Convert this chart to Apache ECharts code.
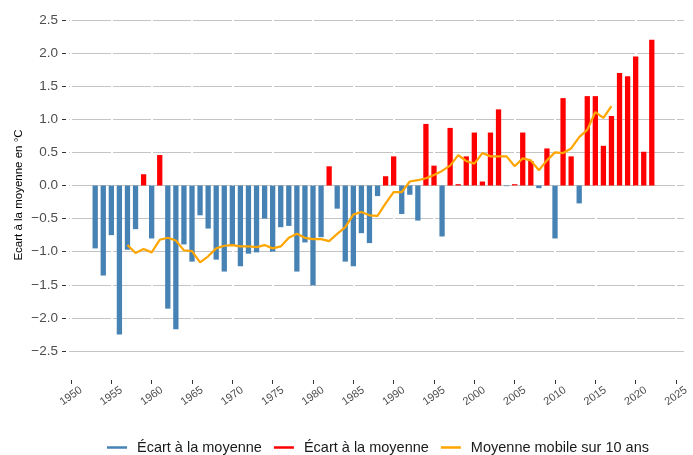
<!DOCTYPE html>
<html>
<head>
<meta charset="utf-8">
<script src="https://cdn.jsdelivr.net/npm/echarts@6/dist/echarts.min.js"></script>
<style>
html,body{margin:0;padding:0;background:#fff;}
#chart{width:693px;height:455px;}
</style>
</head>
<body>
<div id="chart"></div>
<script>
// Years of the annual anomalies
const years = [
  1953,1954,1955,1956,1957,1958,1959,1960,1961,1962,
  1963,1964,1965,1966,1967,1968,1969,1970,1971,1972,
  1973,1974,1975,1976,1977,1978,1979,1980,1981,1982,
  1983,1984,1985,1986,1987,1988,1989,1990,1991,1992,
  1993,1994,1995,1996,1997,1998,1999,2000,2001,2002,
  2003,2004,2005,2006,2007,2008,2009,2010,2011,2012,
  2013,2014,2015,2016,2017,2018,2019,2020,2021,2022
];
// Écart à la moyenne (°C)
const anomalies = [
  -0.95,-1.36,-0.75,-2.25,-0.97,-0.66,0.17,-0.80,0.46,-1.86,
  -2.17,-0.89,-1.15,-0.45,-0.65,-1.12,-1.30,-0.90,-1.22,-1.03,
  -1.01,-0.50,-1.00,-0.63,-0.61,-1.30,-0.86,-1.51,-0.78,0.29,
  -0.35,-1.15,-1.22,-0.72,-0.87,-0.16,0.14,0.44,-0.43,-0.14,
  -0.53,0.93,0.30,-0.77,0.87,0.02,0.44,0.80,0.06,0.80,
  1.15,-0.01,0.02,0.80,0.37,-0.04,0.56,-0.80,1.32,0.44,
  -0.27,1.35,1.35,0.60,1.05,1.70,1.65,1.95,0.51,2.20
];
// Moyenne mobile sur 10 ans
const maYears = [
  1957,1958,1959,1960,1961,1962,1963,1964,1965,1966,
  1967,1968,1969,1970,1971,1972,1973,1974,1975,1976,
  1977,1978,1979,1980,1981,1982,1983,1984,1985,1986,
  1987,1988,1989,1990,1991,1992,1993,1994,1995,1996,
  1997,1998,1999,2000,2001,2002,2003,2004,2005,2006,
  2007,2008,2009,2010,2011,2012,2013,2014,2015,2016,2017
];
const movingAvg = [
  -0.90,-1.02,-0.96,-1.01,-0.82,-0.79,-0.83,-0.98,-0.99,-1.16,
  -1.07,-0.95,-0.91,-0.90,-0.92,-0.92,-0.93,-0.90,-0.95,-0.92,
  -0.79,-0.73,-0.79,-0.81,-0.81,-0.84,-0.73,-0.63,-0.44,-0.40,
  -0.45,-0.46,-0.27,-0.10,-0.10,0.06,0.08,0.11,0.16,0.22,
  0.30,0.46,0.37,0.33,0.49,0.44,0.44,0.44,0.29,0.41,
  0.38,0.23,0.38,0.50,0.49,0.56,0.73,0.84,1.11,1.02,1.20
];
// Tick labels / axis ranges
const xTicks = [1950,1955,1960,1965,1970,1975,1980,1985,1990,1995,2000,2005,2010,2015,2020,2025];
const yTicks = [-2.5,-2.0,-1.5,-1.0,-0.5,0.0,0.5,1.0,1.5,2.0,2.5];

const nameNeg = 'Écart à la moyenne';
const namePos = 'Écart à la moyenne\u200B';
const nameMA = 'Moyenne mobile sur 10 ans';

const negData = [], posData = [];
years.forEach((y, i) => {
  if (anomalies[i] < 0) negData.push([y, anomalies[i]]);
  else posData.push([y, anomalies[i]]);
});
const maData = maYears.map((y, i) => [y, movingAvg[i]]);

const FONT = '"Liberation Sans", Arial, Helvetica, sans-serif';
const fmtY = v => (v < 0 ? '\u2212' + Math.abs(v).toFixed(1) : v.toFixed(1));
const xMin = xTicks[0], xMax = xTicks[xTicks.length - 1];
const yMin = yTicks[0], yMax = yTicks[yTicks.length - 1];

const chart = echarts.init(document.getElementById('chart'), null, {renderer: 'canvas'});
chart.setOption({
  animation: false,
  backgroundColor: '#ffffff',
  textStyle: {fontFamily: FONT},
  grid: [
    {left: 71, right: 17, top: 20, bottom: 104, containLabel: false},
    {left: 69, right: 9, top: 20, bottom: 104, containLabel: false}
  ],
  legend: {
    left: 107, top: 440, padding: 0,
    icon: 'rect', itemWidth: 20, itemHeight: 2.5, itemGap: 12,
    textStyle: {fontFamily: FONT, fontSize: 14.5, color: '#1a1a1a', padding: [0, 0, 0, 5]},
    data: [nameNeg, namePos, nameMA]
  },
  xAxis: [
    {
      gridIndex: 0, type: 'value', position: 'bottom', min: xMin, max: xMax, interval: 5, offset: 29, z: 1,
      axisLine: {show: false, onZero: false},
      axisTick: {show: true, length: 4, lineStyle: {color: '#333333', width: 1}},
      axisLabel: {
        rotate: 35, align: 'center', verticalAlign: 'middle', margin: 16,
        fontFamily: FONT, fontSize: 11, color: '#4d4d4d', formatter: v => String(v)
      },
      splitLine: {show: true, lineStyle: {color: '#ffffff', width: 2}}
    },
    {
      gridIndex: 1, type: 'value', min: xMin, max: xMax, show: false, z: 0,
      axisLine: {show: false, onZero: false}, axisTick: {show: false}, axisLabel: {show: false},
      splitLine: {show: false}
    }
  ],
  yAxis: [
    {
      gridIndex: 0, type: 'value', position: 'left', min: yMin, max: yMax, interval: 0.5, offset: 5, z: 1,
      axisLine: {show: false, onZero: false},
      axisTick: {show: true, length: 4, lineStyle: {color: '#333333', width: 1}},
      axisLabel: {margin: 8, fontFamily: FONT, fontSize: 13.5, color: '#4d4d4d', formatter: fmtY},
      splitLine: {show: false}
    },
    {
      gridIndex: 1, type: 'value', min: yMin, max: yMax, interval: 0.5, z: 0,
      axisLine: {show: false, onZero: false}, axisTick: {show: false}, axisLabel: {show: false},
      splitLine: {show: true, lineStyle: {color: '#c4c4c4', width: 1.2}}
    }
  ],
  graphic: [{
    type: 'text', x: 19, y: 195, rotation: Math.PI / 2,
    style: {text: 'Ecart à la moyenne en °C', font: '11.5px ' + FONT, fill: '#000000',
            textAlign: 'center', textVerticalAlign: 'middle'}
  }],
  series: [
    {
      name: nameNeg, type: 'bar', xAxisIndex: 0, yAxisIndex: 0, data: negData,
      barWidth: 5.3, barGap: '-100%', z: 3, itemStyle: {color: '#4682B4'}
    },
    {
      name: namePos, type: 'bar', xAxisIndex: 0, yAxisIndex: 0, data: posData,
      barWidth: 5.3, barGap: '-100%', z: 3, itemStyle: {color: '#FF0000'}
    },
    {
      name: nameMA, type: 'line', xAxisIndex: 0, yAxisIndex: 0, data: maData, z: 4,
      showSymbol: false, symbol: 'none',
      lineStyle: {color: '#FFA500', width: 2.2}, itemStyle: {color: '#FFA500'}
    }
  ]
});
</script>
</body>
</html>
